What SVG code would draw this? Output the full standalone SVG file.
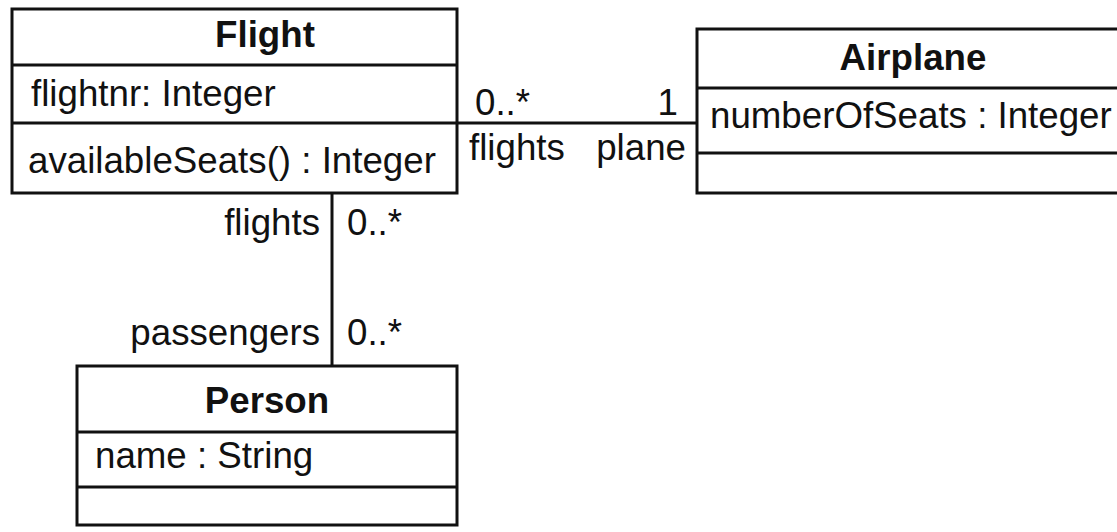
<svg xmlns="http://www.w3.org/2000/svg" width="1117" height="532" viewBox="0 0 1117 532">
<style>
.box{fill:#fff;stroke:#111;stroke-width:3}
.div{stroke:#111;stroke-width:3}
.conn{stroke:#111;stroke-width:3;fill:none}
text{font-family:"Liberation Sans",Arial,sans-serif;font-size:36.7px;fill:#111}
.title{font-weight:bold;text-anchor:middle}
.end{text-anchor:end}
</style>
<rect width="1117" height="532" fill="#fff"/>
<g id="connectors">
<line class="conn" x1="457" y1="123" x2="697" y2="123"/>
<line class="conn" x1="332" y1="193" x2="332" y2="366"/>
<text x="475" y="115">0..*</text>
<text class="end" x="678" y="115">1</text>
<text x="469" y="160">flights</text>
<text class="end" x="686" y="160">plane</text>
<text class="end" x="320" y="235">flights</text>
<text x="347" y="235">0..*</text>
<text class="end" x="320" y="345">passengers</text>
<text x="347" y="345">0..*</text>
</g>
<g id="flight">
<rect class="box" x="12" y="9" width="445" height="184"/>
<line class="div" x1="12" y1="65" x2="457" y2="65"/>
<line class="div" x1="12" y1="123" x2="457" y2="123"/>
<text class="title" x="265" y="47">Flight</text>
<text x="31" y="106">flightnr: Integer</text>
<text x="28" y="173">availableSeats() : Integer</text>
</g>
<g id="airplane">
<rect class="box" x="697" y="29" width="440" height="164"/>
<line class="div" x1="697" y1="88" x2="1137" y2="88"/>
<line class="div" x1="697" y1="153" x2="1137" y2="153"/>
<text class="title" x="913" y="70">Airplane</text>
<text x="710" y="128">numberOfSeats : Integer</text>
</g>
<g id="person">
<rect class="box" x="77" y="366" width="380" height="159"/>
<line class="div" x1="77" y1="432" x2="457" y2="432"/>
<line class="div" x1="77" y1="487" x2="457" y2="487"/>
<text class="title" x="267" y="413">Person</text>
<text x="95" y="468">name : String</text>
</g>
</svg>
